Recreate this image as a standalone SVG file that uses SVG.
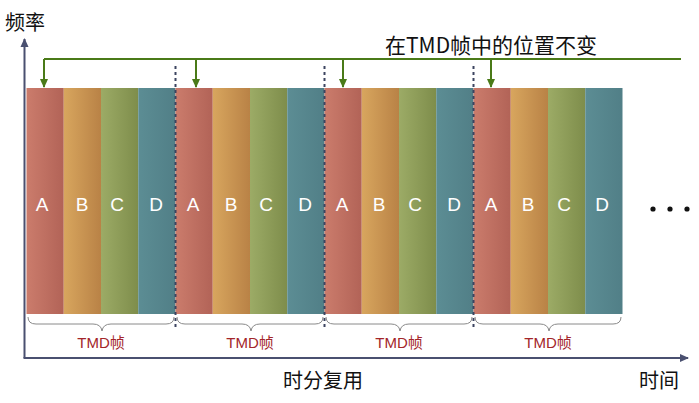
<svg xmlns="http://www.w3.org/2000/svg" width="699" height="403" viewBox="0 0 699 403">
<defs>
<linearGradient id="gA" x1="0" x2="1" y1="0" y2="0"><stop offset="0" stop-color="#cb7c6c"/><stop offset="1" stop-color="#b26357"/></linearGradient>
<linearGradient id="gB" x1="0" x2="1" y1="0" y2="0"><stop offset="0" stop-color="#d8a65e"/><stop offset="1" stop-color="#b98246"/></linearGradient>
<linearGradient id="gC" x1="0" x2="1" y1="0" y2="0"><stop offset="0" stop-color="#9cab66"/><stop offset="1" stop-color="#7e8d4b"/></linearGradient>
<linearGradient id="gD" x1="0" x2="1" y1="0" y2="0"><stop offset="0" stop-color="#5c8d94"/><stop offset="1" stop-color="#517f87"/></linearGradient>
<marker id="axArrow" markerWidth="10" markerHeight="10" refX="8" refY="5" orient="auto" markerUnits="userSpaceOnUse"><path d="M0,1 L9,5 L0,9 z" fill="#4a5070"/></marker>
<marker id="gArrow" markerWidth="10" markerHeight="10" refX="8" refY="5" orient="auto" markerUnits="userSpaceOnUse"><path d="M0,1 L9,5 L0,9 z" fill="#4a7a18"/></marker>
</defs>
<style>
.lbl{font-family:"Liberation Sans","Noto Sans CJK SC",sans-serif;fill:#ffffff;font-size:19px;text-anchor:middle}
.cn{font-family:"Noto Sans CJK SC",sans-serif;fill:#111111;font-size:20px}
.tmd{font-family:"Liberation Sans","Noto Sans CJK SC",sans-serif;fill:#a3262a;font-size:15px;text-anchor:middle}
.dash{stroke:#3c4460;stroke-width:2;stroke-dasharray:3,3;fill:none}
.brace{stroke:#8a8a8a;stroke-width:1;fill:none}
.green{stroke:#4a7a18;stroke-width:2;fill:none}
</style>
<rect width="699" height="403" fill="#ffffff"/>

<g id="frame1">
<rect x="26.5" y="88" width="37.25" height="226" fill="url(#gA)"/>
<rect x="63.75" y="88" width="37.25" height="226" fill="url(#gB)"/>
<rect x="101" y="88" width="37.25" height="226" fill="url(#gC)"/>
<rect x="138.25" y="88" width="37.25" height="226" fill="url(#gD)"/>
<text class="lbl" x="42" y="211">A</text><text class="lbl" x="82" y="211">B</text><text class="lbl" x="117" y="211">C</text><text class="lbl" x="156" y="211">D</text>
</g>
<g id="frame2">
<rect x="175.5" y="88" width="37.25" height="226" fill="url(#gA)"/>
<rect x="212.75" y="88" width="37.25" height="226" fill="url(#gB)"/>
<rect x="250" y="88" width="37.25" height="226" fill="url(#gC)"/>
<rect x="287.25" y="88" width="37.25" height="226" fill="url(#gD)"/>
<text class="lbl" x="193" y="211">A</text><text class="lbl" x="231" y="211">B</text><text class="lbl" x="266" y="211">C</text><text class="lbl" x="305" y="211">D</text>
</g>
<g id="frame3">
<rect x="324.5" y="88" width="37.25" height="226" fill="url(#gA)"/>
<rect x="361.75" y="88" width="37.25" height="226" fill="url(#gB)"/>
<rect x="399" y="88" width="37.25" height="226" fill="url(#gC)"/>
<rect x="436.25" y="88" width="37.25" height="226" fill="url(#gD)"/>
<text class="lbl" x="342" y="211">A</text><text class="lbl" x="379" y="211">B</text><text class="lbl" x="415" y="211">C</text><text class="lbl" x="454" y="211">D</text>
</g>
<g id="frame4">
<rect x="473.5" y="88" width="37.25" height="226" fill="url(#gA)"/>
<rect x="510.75" y="88" width="37.25" height="226" fill="url(#gB)"/>
<rect x="548" y="88" width="37.25" height="226" fill="url(#gC)"/>
<rect x="585.25" y="88" width="37.25" height="226" fill="url(#gD)"/>
<text class="lbl" x="491" y="211">A</text><text class="lbl" x="528" y="211">B</text><text class="lbl" x="564" y="211">C</text><text class="lbl" x="602" y="211">D</text>
</g>

<g id="dots" fill="#111111">
<circle cx="653" cy="209" r="2.6"/><circle cx="670" cy="209" r="2.6"/><circle cx="687" cy="209" r="2.6"/>
</g>

<g id="separators">
<line class="dash" x1="175.5" y1="66" x2="175.5" y2="328"/>
<line class="dash" x1="324.5" y1="66" x2="324.5" y2="328"/>
<line class="dash" x1="473.5" y1="66" x2="473.5" y2="328"/>
</g>

<g id="braces">
<path class="brace" d="M28,317 q0,7 8,7 h57 q8,0 9,7 q1,-7 9,-7 h55 q8,0 8,-7"/>
<path class="brace" d="M177,317 q0,7 8,7 h57 q8,0 9,7 q1,-7 9,-7 h55 q8,0 8,-7"/>
<path class="brace" d="M326,317 q0,7 8,7 h57 q8,0 9,7 q1,-7 9,-7 h55 q8,0 8,-7"/>
<path class="brace" d="M475,317 q0,7 8,7 h57 q8,0 9,7 q1,-7 9,-7 h55 q8,0 8,-7"/>
<text class="tmd" x="101" y="348">TMD帧</text>
<text class="tmd" x="250" y="348">TMD帧</text>
<text class="tmd" x="399" y="348">TMD帧</text>
<text class="tmd" x="548" y="348">TMD帧</text>
</g>

<g id="connectors">
<line x1="24.5" y1="358" x2="24.5" y2="39" stroke="#4a5070" stroke-width="2" marker-end="url(#axArrow)"/>
<line x1="23.5" y1="358" x2="688" y2="358" stroke="#4a5070" stroke-width="2" marker-end="url(#axArrow)"/>
<polyline class="green" points="681,59 44,59"/>
<line class="green" x1="44" y1="59" x2="44" y2="87" marker-end="url(#gArrow)"/>
<line class="green" x1="196" y1="59" x2="196" y2="87" marker-end="url(#gArrow)"/>
<line class="green" x1="343" y1="59" x2="343" y2="87" marker-end="url(#gArrow)"/>
<line class="green" x1="491" y1="59" x2="491" y2="87" marker-end="url(#gArrow)"/>
</g>

<g id="labels">
<text class="cn" x="5" y="30">频率</text>
<text class="cn" x="385" y="53" style="font-size:21px">在TMD帧中的位置不变</text>
<text class="cn" x="283" y="388">时分复用</text>
<text class="cn" x="639" y="388">时间</text>
</g>
</svg>
